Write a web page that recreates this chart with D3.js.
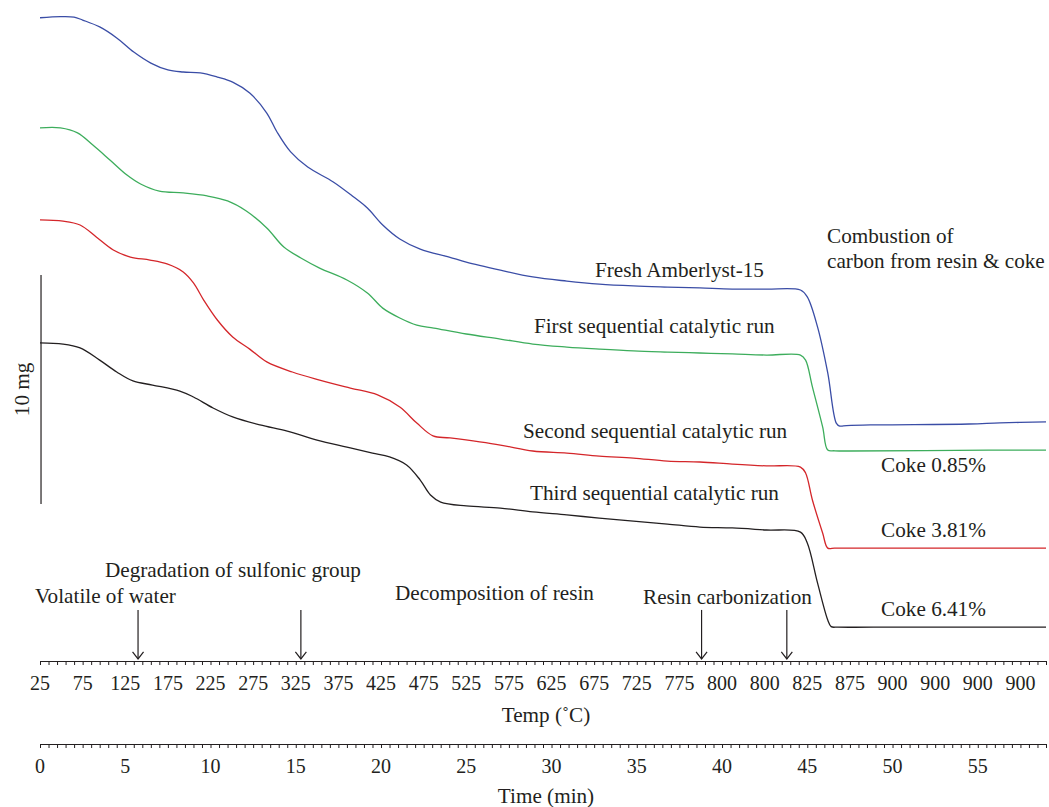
<!DOCTYPE html>
<html><head><meta charset="utf-8">
<script src="https://cdn.jsdelivr.net/npm/d3@7"></script>
<style>
html,body{margin:0;padding:0;background:#fff;}
svg text{font-family:"Liberation Serif","Times New Roman",serif;fill:#231f20;}
</style></head>
<body><svg id="chart" width="1049" height="807"></svg>
<script>
// ---- data: time (min) vs. sample weight (mg, offset traces) ----
const freshTime = [0,1.2,2.0,2.5,3.5,4.5,5.5,6.5,7.5,8.4,9.4,10.4,11.3,12.3,13.3,13.9,14.7,15.7,17.2,18.4,19.2,20.1,21.1,22.3,24.0,25.0,27.0,28.9,30.9,32.8,34.8,36.8,38.7,40.6,42.6,44.6,45.0,45.6,46.2,46.7,46.9,47.3,48.7,54.5,56.3,59.0];
const freshMass = [28.09,28.14,28.12,27.99,27.69,27.21,26.59,26.11,25.81,25.72,25.68,25.50,25.28,24.80,23.93,23.10,22.23,21.57,20.92,20.26,19.78,19.04,18.43,17.99,17.64,17.42,17.07,16.77,16.59,16.46,16.38,16.33,16.29,16.24,16.24,16.20,15.90,14.59,12.58,10.39,10.26,10.28,10.31,10.35,10.40,10.44];

const firstTime = [0,1.2,2.2,3.1,4.1,5.1,5.9,7.0,8.4,9.8,11.0,12.1,13.3,14.3,15.3,16.4,18.0,19.2,20.1,21.1,22.1,23.1,25.0,27.0,28.9,30.9,32.8,34.8,36.8,38.7,40.6,42.6,44.6,44.9,45.3,45.9,46.2,46.6,47.5,55.6,59.0];
const firstMass = [23.28,23.28,23.06,22.53,21.88,21.22,20.83,20.52,20.44,20.31,20.09,19.65,18.91,18.08,17.60,17.16,16.64,16.07,15.41,14.98,14.67,14.54,14.28,14.06,13.84,13.71,13.62,13.54,13.49,13.45,13.41,13.36,13.36,13.14,11.97,10.22,9.21,9.18,9.17,9.21,9.21];

const secondTime = [0,1.35,2.35,3.3,4.3,5.3,6.45,7.45,8.4,9.0,9.6,10.4,11.3,12.3,13.3,14.8,16.4,18.2,19.8,21.1,22.1,23.05,24.05,27.0,28.9,30.9,32.8,34.8,36.8,38.7,40.6,42.6,44.6,44.9,45.3,45.9,46.2,46.6,47.5,59.0];
const secondMass = [19.26,19.21,19.04,18.52,17.95,17.64,17.51,17.34,16.99,16.51,15.76,14.89,14.15,13.62,13.06,12.62,12.27,11.92,11.62,11.09,10.39,9.83,9.74,9.43,9.17,9.08,8.95,8.86,8.73,8.69,8.60,8.52,8.47,8.21,7.03,5.59,4.93,4.93,4.93,4.93];

const thirdTime = [0,1.35,2.35,3.5,4.5,5.45,6.6,8.2,9.0,10.15,11.3,12.9,14.5,16.25,18.0,19.5,20.5,21.5,22.3,22.9,23.5,25.0,27.0,28.9,30.9,32.8,34.8,36.8,38.7,40.6,42.6,44.6,45.0,45.6,46.2,46.4,46.8,50.4,59.0];
const thirdMass = [13.89,13.84,13.67,13.14,12.62,12.23,12.05,11.79,11.53,11.05,10.66,10.31,10.04,9.65,9.34,9.08,8.91,8.56,7.90,7.25,6.94,6.77,6.68,6.51,6.38,6.24,6.11,5.98,5.85,5.81,5.72,5.63,5.15,3.41,1.79,1.50,1.48,1.48,1.48];

const seriesNames = ["Fresh Amberlyst-15","First sequential catalytic run","Second sequential catalytic run","Third sequential catalytic run"];
const seriesColors = ["#3a4da6","#3dad5c","#d4262a","#231f20"];

const tempLabels = ["25","75","125","175","225","275","325","375","425","475","525","575","625","675","725","775","800","800","825","875","900","900","900","900"];
const timeLabels = [0,5,10,15,20,25,30,35,40,45,50,55];

// annotations: [text, time, mass] (left / baseline anchor)
const curveLabels = [
  ["Fresh Amberlyst-15", 32.55, 16.77],
  ["First sequential catalytic run", 28.97, 14.32],
  ["Second sequential catalytic run", 28.33, 9.74],
  ["Third sequential catalytic run", 28.74, 7.03]
];
const cokeLabels = [["Coke 0.85%",49.33,8.25],["Coke 3.81%",49.33,5.41],["Coke 6.41%",49.33,1.97]];
const stageLabels = [
  ["Combustion of", 46.16, 18.25],
  ["carbon from resin & coke", 46.16, 17.16],
  ["Degradation of sulfonic group", 3.81, 3.67],
  ["Volatile of water", -0.29, 2.53],
  ["Decomposition of resin", 20.82, 2.66],
  ["Resin carbonization", 35.37, 2.49]
];
const arrowTimes = [5.75, 15.3, 38.8, 43.8];
const arrowTop = 2.23, arrowBottom = 0.09;
const scaleBar = {time: 0.06, from: 6.86, to: 16.86, label: "10 mg"};

// ---- drawing ----
const svg = d3.select("#chart");
const x = d3.scaleLinear().domain([0, 59]).range([40, 1046]);
const y = d3.scaleLinear().domain([0, 28.865]).range([661, 0]);
const FS = 20, FT = 21.2;

const series = [
  freshTime.map((t,i)=>[t,freshMass[i]]),
  firstTime.map((t,i)=>[t,firstMass[i]]),
  secondTime.map((t,i)=>[t,secondMass[i]]),
  thirdTime.map((t,i)=>[t,thirdMass[i]])
];
const line = d3.line().x(d=>x(d[0])).y(d=>y(d[1])).curve(d3.curveCatmullRom.alpha(0.5));
svg.append("g").selectAll("path").data(series).join("path")
  .attr("d", line).attr("fill","none")
  .attr("stroke",(d,i)=>seriesColors[i]).attr("stroke-width",1.3);

// scale bar
svg.append("line").attr("x1",x(scaleBar.time)).attr("x2",x(scaleBar.time))
  .attr("y1",y(scaleBar.from)).attr("y2",y(scaleBar.to))
  .attr("stroke","#231f20").attr("stroke-width",1.2);
svg.append("text").attr("transform",`translate(${x(scaleBar.time)-12},${y((scaleBar.from+scaleBar.to)/2)}) rotate(-90)`)
  .attr("text-anchor","middle").attr("font-size",FT).text(scaleBar.label);

// text annotations
const allText = curveLabels.concat(cokeLabels, stageLabels);
svg.append("g").selectAll("text").data(allText).join("text")
  .attr("x",d=>x(d[1])).attr("y",d=>y(d[2])).attr("font-size",FT).text(d=>d[0]);

// arrows
const ag = svg.append("g").attr("stroke","#231f20").attr("fill","none").attr("stroke-width",1.2);
arrowTimes.forEach(t=>{
  const ax = x(t), y1 = y(arrowTop), y2 = y(arrowBottom);
  ag.append("line").attr("x1",ax).attr("x2",ax).attr("y1",y1).attr("y2",y2);
  ag.append("path").attr("d",`M${ax-5.5},${y2-7}L${ax},${y2}L${ax+5.5},${y2-7}`);
});

// axes
const ticks = d3.range(0, 59.001, 0.5);
function drawAxis(yPos){
  const g = svg.append("g").attr("transform",`translate(0,${yPos})`)
    .call(d3.axisBottom(x).tickValues(ticks).tickSize(4).tickSizeOuter(0).tickFormat(""));
  g.select(".domain").attr("stroke","#231f20").attr("stroke-width",1.2);
  g.selectAll(".tick line").attr("stroke","#231f20").attr("stroke-width",1);
  return g;
}
drawAxis(661);
drawAxis(744);

svg.append("g").selectAll("text").data(tempLabels).join("text")
  .attr("x",(d,i)=>x(i*2.5)).attr("y",690).attr("text-anchor","middle").attr("font-size",FS).text(d=>d);
svg.append("text").attr("x",546).attr("y",722).attr("text-anchor","middle").attr("font-size",FT).text("Temp (˚C)");

svg.append("g").selectAll("text").data(timeLabels).join("text")
  .attr("x",d=>x(d)).attr("y",773).attr("text-anchor","middle").attr("font-size",FS).text(d=>d);
svg.append("text").attr("x",546).attr("y",803).attr("text-anchor","middle").attr("font-size",FT).text("Time (min)");
</script></body></html>
